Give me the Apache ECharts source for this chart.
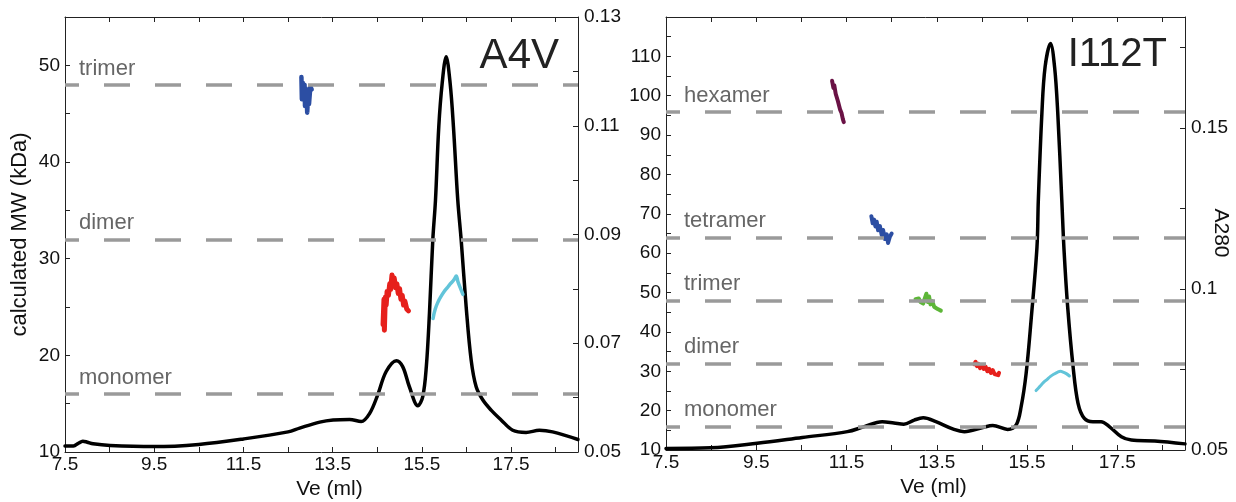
<!DOCTYPE html>
<html>
<head>
<meta charset="utf-8">
<script src="https://cdn.jsdelivr.net/npm/echarts@6/dist/echarts.min.js"></script>
<style>
  html, body { margin: 0; padding: 0; background: #fff; }
  #chart { width: 1236px; height: 502px; }
</style>
</head>
<body>
<div id="chart"></div>
<script>
// ---- data (Ve in ml, MW in kDa, A280 in AU) ----
const veLabels = ['7.5', '9.5', '11.5', '13.5', '15.5', '17.5'];
const mwLabelsA4V = ['10', '20', '30', '40', '50'];
const mwLabelsI112T = ['10', '20', '30', '40', '50', '60', '70', '80', '90', '100', '110'];
const a280LabelsA4V = ['0.05', '0.07', '0.09', '0.11', '0.13'];
const a280LabelsI112T = ['0.05', '0.1', '0.15'];

const a4vStates = ['monomer', 'dimer', 'trimer'];
const a4vStateMW = [16, 32, 48];
const i112tStates = ['monomer', 'dimer', 'trimer', 'tetramer', 'hexamer'];
const i112tStateMW = [16, 32, 48, 64, 96];

// A4V absorbance trace
const a4vA280 = [
  [7.5, 0.0511], [7.69, 0.0511], [7.8, 0.0516], [7.9, 0.0520], [8.0, 0.0518], [8.13, 0.0515],
  [8.51, 0.0512], [9.49, 0.0510], [10.5, 0.0514], [11.5, 0.0524], [12.5, 0.0537], [12.76, 0.0544],
  [13.21, 0.0555], [13.51, 0.0559], [13.88, 0.0560], [14.14, 0.0556], [14.33, 0.0571], [14.51, 0.0605],
  [14.70, 0.0648], [14.93, 0.0668], [15.07, 0.0657], [15.22, 0.0620], [15.41, 0.0585], [15.52, 0.0602],
  [15.60, 0.0657], [15.67, 0.0755], [15.745, 0.0890], [15.805, 0.0963], [15.879, 0.1098], [15.955, 0.1178],
  [16.045, 0.1227], [16.134, 0.1178], [16.208, 0.1098], [16.305, 0.0963], [16.381, 0.0890], [16.493, 0.0767],
  [16.605, 0.0669], [16.717, 0.0620], [16.864, 0.0596], [17.052, 0.0577], [17.276, 0.0559], [17.536, 0.0540],
  [17.836, 0.0536], [18.134, 0.0540], [18.43, 0.0537], [19.0, 0.0523]
];
const a4vTrimerMW = [
  [12.80, 48.8], [12.81, 46.5], [12.83, 48.2], [12.85, 47.3], [12.87, 48.0], [12.88, 45.8], [12.90, 47.6],
  [12.92, 46.2], [12.93, 45.1], [12.95, 47.0], [12.97, 46.0], [13.0, 47.8], [13.03, 47.5]
];
const a4vDimerMW = [
  [14.63, 23.2], [14.65, 25.8], [14.66, 22.6], [14.68, 26.0], [14.70, 25.2], [14.72, 26.6], [14.75, 26.2],
  [14.78, 27.4], [14.80, 26.8], [14.83, 28.3], [14.86, 27.6], [14.88, 28.0], [14.91, 27.0], [14.94, 27.4],
  [14.97, 26.4], [15.0, 26.9], [15.03, 25.8], [15.06, 26.2], [15.09, 25.2], [15.12, 25.6], [15.16, 24.8], [15.2, 24.6]
];
const a4vMonomerMW = [
  [15.75, 23.8], [15.8, 24.8], [15.87, 25.6], [15.93, 26.1], [16.0, 26.6], [16.07, 27.0], [16.12, 27.3],
  [16.18, 27.6], [16.23, 27.9], [16.27, 28.2], [16.31, 27.6], [16.36, 27.0], [16.42, 26.3]
];

// I112T absorbance trace
const i112tA280 = [
  [7.5, 0.0505], [8.49, 0.0507], [9.52, 0.0521], [10.52, 0.0539], [11.52, 0.0557], [11.88, 0.0572],
  [12.29, 0.0588], [12.55, 0.0584], [12.77, 0.0580], [13.0, 0.0593], [13.2, 0.0600], [13.48, 0.0588],
  [13.88, 0.0564], [14.11, 0.0557], [14.52, 0.0570], [14.74, 0.0576], [15.07, 0.0564], [15.26, 0.0578],
  [15.37, 0.0635], [15.48, 0.0738], [15.59, 0.0904], [15.72, 0.1130], [15.75, 0.1276], [15.83, 0.1549],
  [15.90, 0.1690], [16.02, 0.1763], [16.11, 0.1690], [16.18, 0.1549], [16.27, 0.1276], [16.32, 0.1120],
  [16.40, 0.0945], [16.52, 0.0759], [16.63, 0.0645], [16.77, 0.0598], [16.96, 0.0588], [17.14, 0.0588],
  [17.33, 0.0572], [17.59, 0.0541], [17.81, 0.0531], [18.33, 0.0528], [19.0, 0.0519]
];
const i112tHexamerMW = [
  [11.18, 103.8], [11.21, 102.0], [11.23, 102.6], [11.26, 100.5], [11.29, 100.9], [11.31, 98.6],
  [11.34, 98.2], [11.36, 96.4], [11.39, 95.6], [11.42, 94.0], [11.44, 93.3]
];
const i112tTetramerMW = [
  [12.05, 69.4], [12.08, 67.6], [12.11, 68.5], [12.14, 66.8], [12.17, 68.0], [12.2, 65.8], [12.24, 66.9],
  [12.28, 64.6], [12.31, 65.9], [12.35, 63.6], [12.39, 64.8], [12.42, 62.6], [12.46, 64.2], [12.5, 65.0]
];
const i112tTrimerMW = [
  [13.03, 48.3], [13.07, 48.0], [13.1, 48.5], [13.14, 47.6], [13.17, 48.0], [13.2, 47.2], [13.23, 48.4],
  [13.27, 49.7], [13.3, 47.6], [13.33, 49.0], [13.36, 47.0], [13.4, 47.8], [13.44, 46.4], [13.48, 46.8],
  [13.52, 45.8], [13.56, 46.2], [13.59, 45.4]
];
const i112tDimerMW = [
  [14.33, 31.8], [14.36, 32.4], [14.39, 31.3], [14.42, 31.9], [14.46, 30.8], [14.5, 31.6], [14.54, 30.6],
  [14.58, 31.2], [14.62, 30.0], [14.66, 30.6], [14.7, 29.6], [14.74, 30.3], [14.78, 29.3], [14.82, 29.8],
  [14.86, 29.0], [14.88, 29.6]
];
const i112tMonomerMW = [
  [15.7, 25.1], [15.78, 26.1], [15.86, 27.1], [15.94, 27.9], [16.02, 28.7], [16.1, 29.3], [16.18, 29.8],
  [16.24, 30.0], [16.3, 29.8], [16.37, 29.4], [16.44, 28.8]
];

// ---- styling ----
const fontFamily = "Helvetica, 'Liberation Sans', Arial, sans-serif";
const axisColor = '#222';
const textColor = '#111';
const dashColor = '#9a9a9a';
const colors = { blue: '#2c4ea3', red: '#e6201c', cyan: '#62c4d9', green: '#5db638', purple: '#6a1245' };

const onlyLabels = (list) => (v) => { const s = String(+v.toFixed(3)); return list.includes(s) ? s : ''; };

function xAxes(gridIndex){
  const base = {
    gridIndex, type: 'value', min: 7.5, max: 19, interval: 1,
    axisLine: { show: true, onZero: false, lineStyle: { color: axisColor, width: 1 } },
    axisTick: { show: true, inside: true, length: 5, lineStyle: { color: axisColor } },
    splitLine: { show: false }
  };
  return [
    Object.assign({}, base, {
      position: 'bottom', name: 'Ve (ml)', nameLocation: 'middle', nameGap: 26,
      nameTextStyle: { fontSize: 21, color: textColor, fontFamily, padding: [0, 0, 0, 16] },
      axisLabel: { formatter: onlyLabels(veLabels), fontSize: 19, color: textColor, fontFamily, margin: 3 }
    }),
    Object.assign({}, base, { position: 'top', axisLabel: { show: false } })
  ];
}

function yAxis(gridIndex, position, min, max, interval, labels, extra){
  return Object.assign({
    gridIndex, type: 'value', position, min, max, interval,
    axisLine: { show: true, onZero: false, lineStyle: { color: axisColor, width: 1 } },
    axisTick: { show: true, inside: true, length: 5, lineStyle: { color: axisColor } },
    axisLabel: { formatter: onlyLabels(labels), fontSize: 19, color: textColor, fontFamily, margin: position === 'left' ? 5 : 6 },
    splitLine: { show: false }
  }, extra || {});
}

function stateLines(xAxisIndex, yAxisIndex, names, values, labelDx){
  return {
    type: 'line', xAxisIndex, yAxisIndex, data: [], z: 1, silent: true,
    markLine: {
      symbol: 'none', silent: true, animation: false,
      lineStyle: { color: dashColor, width: 3.5, type: [26, 25], dashOffset: 12 },
      label: { show: true, position: 'insideStartTop', distance: [labelDx, 5],
        fontSize: 22, color: '#666', fontFamily },
      emphasis: { disabled: true },
      data: values.map((v, i) => ({ yAxis: v, label: { formatter: names[i] } }))
    }
  };
}

function trace(xAxisIndex, yAxisIndex, data, color, width, smooth){
  return {
    type: 'line', xAxisIndex, yAxisIndex, data, showSymbol: false, symbol: 'none',
    smooth: smooth, z: 3, silent: true,
    lineStyle: { color, width, join: 'round', cap: 'round' }
  };
}

const chart = echarts.init(document.getElementById('chart'), null, { renderer: 'canvas' });

const option = {
  backgroundColor: '#fff',
  animation: false,
  textStyle: { fontFamily, color: textColor },
  title: [
    { text: 'A4V', right: 672, top: 30, textStyle: { fontSize: 42, fontWeight: 'normal', color: '#222', fontFamily } },
    { text: 'I112T', right: 64, top: 30, textStyle: { fontSize: 40, fontWeight: 'normal', color: '#222', fontFamily } }
  ],
  graphic: [
    { type: 'text', x: 1221, y: 233, rotation: -Math.PI / 2, silent: true,
      style: { text: 'A280', fill: textColor, font: `21px ${fontFamily}`, align: 'center', verticalAlign: 'middle' } }
  ],
  grid: [
    { left: 65, top: 17, width: 513, height: 435, outerBoundsMode: 'none', containLabel: false },
    { left: 666, top: 17, width: 519, height: 433, outerBoundsMode: 'none', containLabel: false }
  ],
  xAxis: [...xAxes(0), ...xAxes(1)],
  yAxis: [
    yAxis(0, 'left', 10, 55, 5, mwLabelsA4V, {
      name: 'calculated MW (kDa)', nameLocation: 'middle', nameGap: 34,
      nameTextStyle: { fontSize: 22, color: textColor, fontFamily }
    }),
    yAxis(0, 'right', 0.05, 0.13, 0.01, a280LabelsA4V),
    yAxis(1, 'left', 10, 120, 5, mwLabelsI112T),
    yAxis(1, 'right', 0.05, 0.1845, 0.025, a280LabelsI112T)
  ],
  series: [
    stateLines(0, 0, a4vStates, a4vStateMW, 14),
    trace(0, 1, a4vA280, '#000', 3.5, 0.35),
    trace(0, 0, a4vTrimerMW, colors.blue, 4.5, false),
    trace(0, 0, a4vDimerMW, colors.red, 5, false),
    trace(0, 0, a4vMonomerMW, colors.cyan, 3.5, 0.4),

    stateLines(2, 2, i112tStates, i112tStateMW, 18),
    trace(2, 3, i112tA280, '#000', 3.5, 0.35),
    trace(2, 2, i112tHexamerMW, colors.purple, 4, false),
    trace(2, 2, i112tTetramerMW, colors.blue, 4, false),
    trace(2, 2, i112tTrimerMW, colors.green, 4, false),
    trace(2, 2, i112tDimerMW, colors.red, 4, false),
    trace(2, 2, i112tMonomerMW, colors.cyan, 3, 0.4)
  ]
};

chart.setOption(option);
</script>
</body>
</html>
